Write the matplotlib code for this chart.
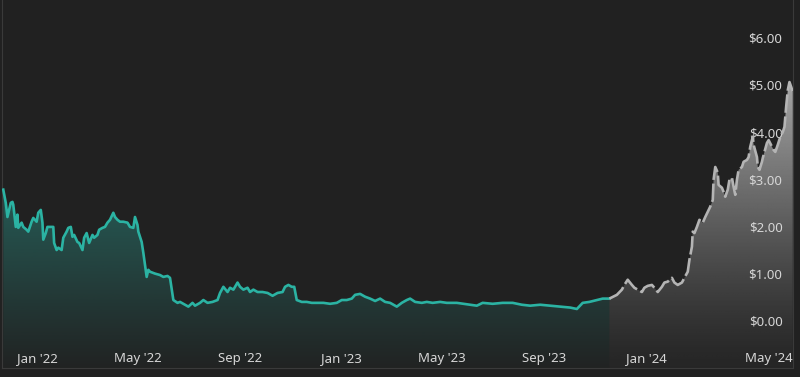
import numpy as np
import matplotlib.pyplot as plt
import matplotlib.dates as mdates
from matplotlib.colors import to_rgb

# price history, days counted from 2022-01-01
hist_days = [-41, -38, -36, -32, -30, -29, -26, -24, -23, -19, -17, -13, -11, -7, -5, -1,
             1, 4, 6, 7, 10, 12, 16, 19, 20, 23, 25, 29, 31, 35, 37, 40, 42, 44, 48, 50,
             54, 56, 59, 61, 62, 66, 68, 72, 74, 78, 81, 84, 87, 91, 93, 96, 99, 103, 108,
             111, 115, 117, 120, 121, 125, 127, 131, 133, 135, 141, 147, 151, 156, 159,
             163, 168, 171, 177, 181, 186, 189, 195, 199, 204, 210, 216, 219, 223, 228,
             231, 235, 240, 243, 247, 252, 255, 259, 264, 270, 276, 282, 288, 294, 297,
             301, 305, 308, 311, 317, 323, 329, 335, 343, 351, 359, 365, 371, 377, 381,
             387, 393, 399, 405, 411, 417, 423, 431, 437, 443, 447, 453, 461, 467, 474,
             483, 491, 503, 519, 527, 534, 546, 558, 570, 581, 591, 603, 615, 627, 639,
             647, 654, 662, 671, 678, 686]
hist_price = [2.78, 2.50, 2.20, 2.50, 2.52, 2.46, 1.99, 2.25, 1.97, 2.08, 1.99, 1.93, 1.89,
              2.10, 2.18, 2.10, 2.29, 2.35, 2.08, 1.72, 1.86, 1.99, 1.99, 1.99, 1.65, 1.50,
              1.55, 1.50, 1.76, 1.89, 1.97, 1.99, 1.78, 1.82, 1.67, 1.65, 1.50, 1.76, 1.86,
              1.72, 1.65, 1.82, 1.76, 1.82, 1.93, 1.97, 1.99, 2.08, 2.14, 2.29, 2.20, 2.14,
              2.10, 2.10, 2.08, 1.99, 1.97, 2.20, 2.03, 1.89, 1.67, 1.44, 0.93, 1.08, 1.04,
              1.00, 0.97, 0.93, 0.95, 0.91, 0.44, 0.38, 0.40, 0.34, 0.30, 0.38, 0.32, 0.38,
              0.44, 0.38, 0.40, 0.44, 0.59, 0.72, 0.61, 0.70, 0.66, 0.81, 0.72, 0.66, 0.70,
              0.61, 0.66, 0.61, 0.61, 0.59, 0.53, 0.59, 0.61, 0.72, 0.76, 0.72, 0.72, 0.44,
              0.40, 0.40, 0.38, 0.38, 0.38, 0.36, 0.38, 0.44, 0.44, 0.47, 0.55, 0.57, 0.51,
              0.47, 0.42, 0.47, 0.40, 0.38, 0.30, 0.38, 0.44, 0.47, 0.40, 0.38, 0.40, 0.38,
              0.40, 0.38, 0.38, 0.34, 0.32, 0.38, 0.36, 0.38, 0.38, 0.34, 0.32, 0.34, 0.32,
              0.30, 0.28, 0.25, 0.38, 0.40, 0.44, 0.47, 0.47]

# recent segment (grey)
rec_days = [686, 695, 701, 704, 708, 713, 716, 720, 725, 728, 732, 737, 740, 744, 749, 752,
            756, 761, 764, 768, 773, 776, 780, 782, 785, 786, 788, 791, 794, 798, 801, 804,
            807, 810, 811, 813, 816, 817, 821, 823, 825, 828, 830, 833, 835, 837, 839, 841,
            845, 847, 851, 853, 855, 858, 859, 863, 864, 866, 869, 870, 872, 875, 877, 881,
            883, 885, 888, 891, 894, 896, 898, 900, 902, 904, 906]
rec_price = [0.47, 0.55, 0.66, 0.76, 0.87, 0.76, 0.70, 0.66, 0.61, 0.70, 0.74, 0.76, 0.70,
             0.61, 0.72, 0.81, 0.83, 0.91, 0.81, 0.76, 0.81, 0.91, 1.04, 1.29, 1.57, 1.89,
             1.86, 1.99, 2.14, 2.08, 2.20, 2.31, 2.42, 2.56, 2.99, 3.26, 3.14, 2.88, 2.82,
             2.73, 2.63, 2.78, 2.99, 3.03, 2.84, 2.67, 2.99, 3.20, 3.26, 3.37, 3.41, 3.47,
             3.69, 3.90, 3.73, 3.47, 3.26, 3.20, 3.37, 3.45, 3.58, 3.77, 3.83, 3.69, 3.62,
             3.58, 3.73, 3.90, 4.00, 4.11, 4.53, 4.89, 5.06, 4.96, 4.85]

tick_dates = ['2022-01-01', '2022-05-01', '2022-09-01', '2023-01-01', '2023-05-01',
              '2023-09-01', '2024-01-01', '2024-05-01']
tick_labels = ["Jan '22", "May '22", "Sep '22", "Jan '23", "May '23", "Sep '23",
               "Jan '24", "May '24"]
y_ticks = [0, 1, 2, 3, 4, 5, 6]

base = np.datetime64('2022-01-01')
hx = mdates.date2num(base + np.array(hist_days).astype('timedelta64[D]'))
rx = mdates.date2num(base + np.array(rec_days).astype('timedelta64[D]'))
hy = np.array(hist_price)
ry = np.array(rec_price)

BG = '#212121'
TEAL = '#2bb3a3'
GREY = '#b4b4b4'
TXT = '#d6d6d6'

plt.rcParams['font.family'] = ['Noto Sans', 'DejaVu Sans']

fig = plt.figure(figsize=(8, 3.77), dpi=100, facecolor=BG)
ax = fig.add_axes([0.002, 0.024, 0.989, 0.976])
ax.set_facecolor(BG)

ymin, ymax = -1.0, 6.8
x0, x1 = hx[0] - 2, rx[-1]
ax.set_xlim(x0, x1)
ax.set_ylim(ymin, ymax)


def gradient_fill(x, y, color, a_top, a_bot, top, power=1.0):
    poly = ax.fill_between(x, y, ymin, color='none', lw=0)
    rgb = to_rgb(color)
    n = 256
    img = np.zeros((n, 1, 4))
    img[:, 0, :3] = rgb
    t = np.linspace(1, 0, n) ** power
    img[:, 0, 3] = a_bot + (a_top - a_bot) * t
    im = ax.imshow(img, aspect='auto', extent=[x[0], x[-1], ymin, top],
                   origin='upper', zorder=1)
    im.set_clip_path(poly.get_paths()[0], transform=ax.transData)


gradient_fill(hx, hy, '#2a8a80', 0.55, 0.02, hy.max())
gradient_fill(rx, ry, '#c4c4c4', 0.82, 0.03, ry.max(), power=1.25)

ax.plot(hx, hy, color=TEAL, lw=1.9, zorder=3, solid_joinstyle='round')
ax.plot(rx, ry, color=GREY, lw=1.9, zorder=3, linestyle=(0, (7, 1.4)))

# spines
ax.spines['top'].set_visible(False)
for s in ['bottom', 'left', 'right']:
    ax.spines[s].set_color('#3a3a3a')

# y labels inside on the right
ax.yaxis.tick_right()
ax.set_yticks(y_ticks)
ax.set_yticklabels(['${:.2f}'.format(v) for v in y_ticks])
ax.tick_params(axis='y', length=0, pad=-7.5, labelsize=9.5, labelcolor=TXT)
for lab in ax.get_yticklabels():
    lab.set_horizontalalignment('right')

# x labels inside at the bottom, last one kept inside the frame
ax.set_xticks([])
for i, (d, lab) in enumerate(zip(tick_dates, tick_labels)):
    xv = mdates.date2num(np.datetime64(d))
    ha = 'center'
    if i == len(tick_dates) - 1:
        xv, ha = x1, 'right'
    ax.text(xv, ymin + 0.07, lab, ha=ha, va='bottom', fontsize=9.5, color=TXT, zorder=4)

fig.savefig('out.png', dpi=100, facecolor=BG)
